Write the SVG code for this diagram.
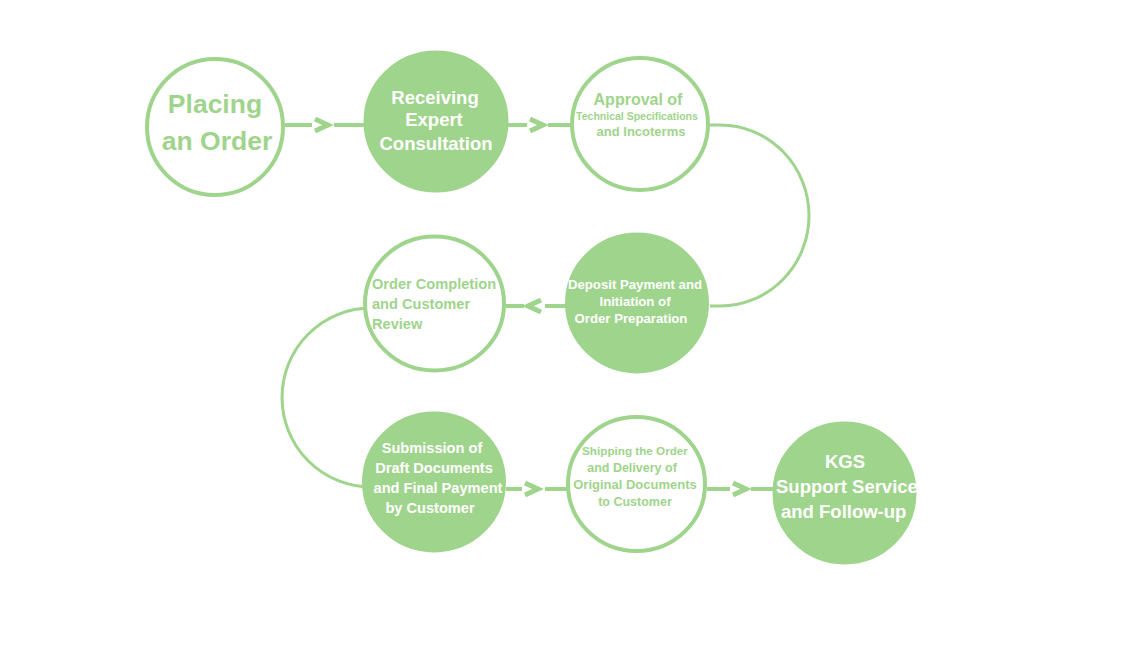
<svg xmlns="http://www.w3.org/2000/svg" width="1146" height="648" viewBox="0 0 1146 648">
<style>
.ring{fill:#ffffff;stroke:#9fd48c;stroke-width:4}
.disc{fill:#9fd48c;stroke:#9fd48c;stroke-width:2}
.t{font-family:"Liberation Sans",Arial,sans-serif;font-weight:bold;text-anchor:middle}
.s{text-anchor:start}
.g{fill:#9fd48c}
.w{fill:#ffffff}
.ln{stroke:#9fd48c;stroke-width:4;fill:none}
.arc{stroke:#9fd48c;stroke-width:3;fill:none}
.chev{stroke:#9fd48c;stroke-width:5;fill:none;stroke-linejoin:miter}
</style>
<rect width="1146" height="648" fill="#ffffff"/>
<g id="connectors">
<line class="ln" x1="285" y1="125" x2="312" y2="125"/>
<polyline class="chev" points="315,119 328,125 315,131"/>
<line class="ln" x1="334" y1="125" x2="365" y2="125"/>
<line class="ln" x1="508" y1="125" x2="527" y2="125"/>
<polyline class="chev" points="530,119 543,125 530,131"/>
<line class="ln" x1="548" y1="125" x2="571" y2="125"/>
<path class="arc" d="M710 125 L720 125 A89 90.5 0 0 1 720 306 L710 306"/>
<line class="ln" x1="506" y1="306" x2="524" y2="306"/>
<polyline class="chev" points="541,300 528,306 541,312"/>
<line class="ln" x1="545" y1="306" x2="566" y2="306"/>
<path class="arc" d="M364 308 L371 308 A89 89.5 0 0 0 371 487 L362 487"/>
<line class="ln" x1="506" y1="489" x2="522" y2="489"/>
<polyline class="chev" points="525,483 538,489 525,495"/>
<line class="ln" x1="545" y1="489" x2="567" y2="489"/>
<line class="ln" x1="707" y1="489" x2="730" y2="489"/>
<polyline class="chev" points="733,483 746,489 733,495"/>
<line class="ln" x1="751" y1="489" x2="774" y2="489"/>
</g>
<g id="n1">
<circle class="ring" cx="215" cy="127" r="68"/>
<text class="t g" x="215" y="113" font-size="26.5">Placing</text>
<text class="t g" x="217" y="150" font-size="26.5">an Order</text>
</g>
<g id="n2">
<ellipse class="disc" cx="436" cy="121.5" rx="71.5" ry="70"/>
<text class="t w" x="435" y="104" font-size="18.5">Receiving</text>
<text class="t w" x="434" y="126" font-size="18.5">Expert</text>
<text class="t w" x="436" y="150" font-size="18.5">Consultation</text>
</g>
<g id="n3">
<ellipse class="ring" cx="640" cy="124" rx="68" ry="66"/>
<text class="t g" x="638" y="105" font-size="16">Approval of</text>
<text class="t g" x="637" y="120" font-size="10.5">Technical Specifications</text>
<text class="t g" x="641" y="136" font-size="13">and Incoterms</text>
</g>
<g id="n4">
<ellipse class="disc" cx="637" cy="303" rx="71" ry="69.5"/>
<text class="t w" x="635" y="289" font-size="13.2">Deposit Payment and</text>
<text class="t w" x="635" y="306" font-size="13.2">Initiation of</text>
<text class="t w" x="631" y="323" font-size="13.2">Order Preparation</text>
</g>
<g id="n5">
<ellipse class="ring" cx="434.5" cy="303.5" rx="69.5" ry="67"/>
<text class="t s g" x="372" y="289" font-size="14.6">Order Completion</text>
<text class="t s g" x="372" y="309" font-size="14.6">and Customer</text>
<text class="t s g" x="372" y="329" font-size="14.6">Review</text>
</g>
<g id="n6">
<ellipse class="disc" cx="434" cy="482" rx="71" ry="69.5"/>
<text class="t w" x="432" y="453" font-size="14.6">Submission of</text>
<text class="t w" x="434" y="473" font-size="14.6">Draft Documents</text>
<text class="t w" x="438" y="493" font-size="14.6">and Final Payment</text>
<text class="t w" x="430" y="513" font-size="14.6">by Customer</text>
</g>
<g id="n7">
<ellipse class="ring" cx="636.5" cy="484" rx="68.5" ry="67"/>
<text class="t g" x="635" y="455" font-size="11.7">Shipping the Order</text>
<text class="t g" x="632" y="472" font-size="12.5">and Delivery of</text>
<text class="t g" x="635" y="489" font-size="13">Original Documents</text>
<text class="t g" x="635" y="506" font-size="12.5">to Customer</text>
</g>
<g id="n8">
<ellipse class="disc" cx="844.5" cy="493" rx="71" ry="70.5"/>
<text class="t w" x="845" y="468" font-size="18.5">KGS</text>
<text class="t s w" x="776" y="493" font-size="18.5">Support Service</text>
<text class="t s w" x="781" y="518" font-size="18.5">and Follow-up</text>
</g>
</svg>
